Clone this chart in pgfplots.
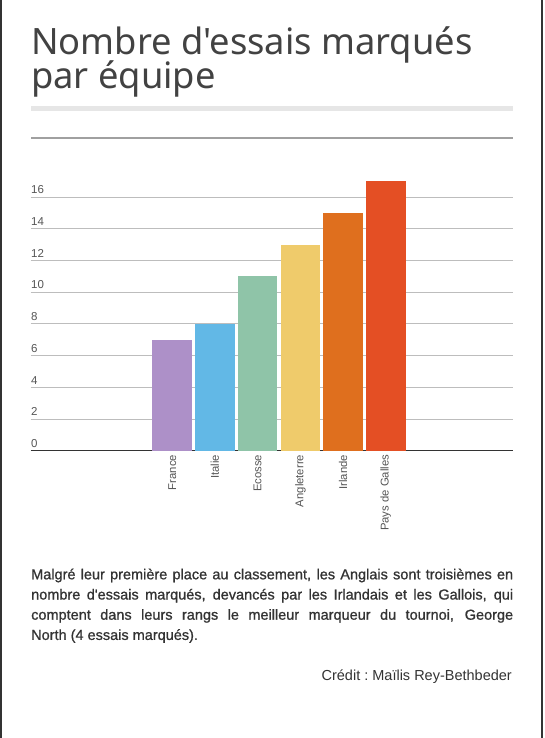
\documentclass[border=0pt]{standalone}
\usepackage{fontspec}
\setmainfont{Liberation Sans}[Ligatures=TeXOff]
\newfontfamily\titlefont{Noto Sans}[Ligatures=TeXOff]
\newfontfamily\bodyfont{Liberation Sans}[Ligatures=TeXOff, FakeBold=0.9]
\usepackage{pgfplots}
\pgfplotsset{compat=1.18}
\definecolor{cFR}{HTML}{AD90C8}
\definecolor{cIT}{HTML}{62B8E6}
\definecolor{cEC}{HTML}{8FC4A8}
\definecolor{cAN}{HTML}{EFCB6B}
\definecolor{cIR}{HTML}{DF6F1E}
\definecolor{cPG}{HTML}{E44F24}
\definecolor{cframe}{HTML}{333333}
\definecolor{ctitle}{HTML}{424242}
\definecolor{cbar}{HTML}{E6E6E6}
\definecolor{csep}{HTML}{A0A0A0}
\definecolor{cgrid}{HTML}{BDBDBD}
\definecolor{ctick}{HTML}{555555}
\definecolor{cbody}{HTML}{333333}
\begin{document}
\begin{tikzpicture}[x=1pt,y=1pt]
\path[use as bounding box] (0,0) rectangle (545,-738);
\fill[white] (0,0) rectangle (545,-738);
\draw[cframe, line width=2pt] (1,0) -- (1,-738);
\draw[cframe, line width=2pt] (542,0) -- (542,-738);
\node[anchor=base west, inner sep=0pt, text=ctitle, font=\titlefont\fontsize{36.3}{36}\selectfont] at (31,-54.3) {Nombre d'essais marqués};
\node[anchor=base west, inner sep=0pt, text=ctitle, font=\titlefont\fontsize{36.3}{36}\selectfont] at (31,-89) {par équipe};
\fill[cbar] (31,-106) rectangle (513,-110.7);
\draw[csep, line width=2pt] (31,-138.3) -- (513,-138.3);
\begin{axis}[
  at={(31pt,-450.7pt)}, anchor=south west,
  scale only axis, width=482pt, height=277.2pt,
  xmin=-3.305, xmax=7.977, ymin=0, ymax=17.5,
  axis x line=bottom, axis y line=left,
  axis line style={-},
  x axis line style={draw=cframe, line width=1.5pt},
  y axis line style={draw=none},
  major tick length=0pt,
  ytick={0,2,...,16},
  ymajorgrids, grid style={cgrid, line width=1pt},
  xtick={0,1,2,3,4,5},
  xticklabels={France,Italie,Ecosse,Angleterre,Irlande,Pays de Galles},
  /pgf/number format/assume math mode=true,
  tick label style={font=\fontsize{11.5}{13}\selectfont, text=ctick},
  xticklabel style={rotate=90, anchor=east, font=\fontsize{11.3}{13}\selectfont, inner sep=4pt},
  yticklabel style={anchor=south west, inner sep=0pt, yshift=3pt},
  ybar, bar width=39.5pt, bar shift=0pt,
  every axis plot/.append style={draw=none},
]
\addplot[fill=cFR] coordinates {(0,7)};
\addplot[fill=cIT] coordinates {(1,8)};
\addplot[fill=cEC] coordinates {(2,11)};
\addplot[fill=cAN] coordinates {(3,13)};
\addplot[fill=cIR] coordinates {(4,15)};
\addplot[fill=cPG] coordinates {(5,17)};
\end{axis}
\node[anchor=base west, inner sep=0pt, text=cbody] at (31,-579.3) {\parbox[t]{482pt}{\bodyfont\fontsize{14.5}{20.2}\selectfont\hyphenpenalty=10000\tolerance=9999\emergencystretch=20pt
Malgré leur première place au classement, les Anglais sont troisièmes en\linebreak
nombre d'essais marqués, devancés par les Irlandais et les Gallois, qui\linebreak
comptent dans leurs rangs le meilleur marqueur du tournoi, George\linebreak
North (4 essais marqués).}};
\node[anchor=base east, inner sep=0pt, text=cbody, font=\fontsize{14.5}{17}\selectfont] at (512,-680) {Crédit :\ Maïlis Rey-Bethbeder};
\end{tikzpicture}
\end{document}
